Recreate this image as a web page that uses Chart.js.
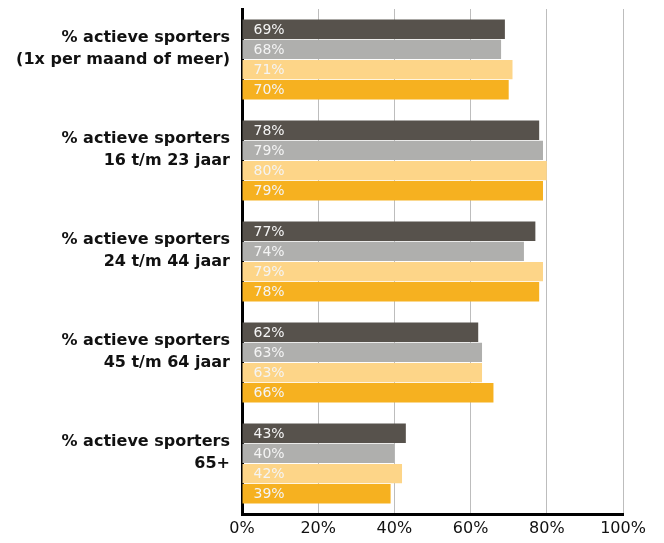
<!DOCTYPE html>
<html>
<head>
<meta charset="utf-8">
<script src="https://cdn.jsdelivr.net/npm/chart.js@4/dist/chart.umd.min.js"></script>
<style>
html,body{margin:0;padding:0;background:#fff;}
#wrap{width:664px;height:543px;position:relative;}
</style>
</head>
<body>
<div id="wrap"><canvas id="c" width="664" height="543"></canvas></div>
<script>
const categories = [
  ['% actieve sporters', '(1x per maand of meer)', ''],
  ['% actieve sporters', '16 t/m 23 jaar', ''],
  ['% actieve sporters', '24 t/m 44 jaar', ''],
  ['% actieve sporters', '45 t/m 64 jaar', ''],
  ['% actieve sporters', '65+', '']
];
const series1 = [69, 78, 77, 62, 43];
const series2 = [68, 79, 74, 63, 40];
const series3 = [71, 80, 79, 63, 42];
const series4 = [70, 79, 78, 66, 39];
const tickValues = [0, 20, 40, 60, 80, 100];

const colors = ['#57524c', '#afafad', '#fdd588', '#f6b120'];
const FAMILY = '"DejaVu Sans", Verdana, sans-serif';

const labelPlugin = {
  id: 'barLabels',
  afterDatasetsDraw(chart) {
    const ctx = chart.ctx;
    ctx.save();
    ctx.font = '14px ' + FAMILY;
    ctx.fillStyle = '#f4f4f4';
    ctx.textAlign = 'left';
    ctx.textBaseline = 'middle';
    chart.data.datasets.forEach((ds, i) => {
      const meta = chart.getDatasetMeta(i);
      meta.data.forEach((el, j) => {
        ctx.fillText(ds.data[j] + '%', el.base + 11, el.y + 1);
      });
    });
    ctx.restore();
  }
};

new Chart(document.getElementById('c'), {
  type: 'bar',
  data: {
    labels: categories,
    datasets: [
      { label: 'Serie 1', data: series1, backgroundColor: colors[0] },
      { label: 'Serie 2', data: series2, backgroundColor: colors[1] },
      { label: 'Serie 3', data: series3, backgroundColor: colors[2] },
      { label: 'Serie 4', data: series4, backgroundColor: colors[3] }
    ]
  },
  options: {
    indexAxis: 'y',
    responsive: false,
    animation: false,
    layout: { padding: { top: 9, right: 41, bottom: 0, left: 0 } },
    plugins: { legend: { display: false }, tooltip: { enabled: false } },
    datasets: { bar: { categoryPercentage: 0.8, barPercentage: 0.96 } },
    scales: {
      x: {
        min: 0, max: 100,
        afterBuildTicks(scale) { scale.ticks = tickValues.map(v => ({ value: v })); },
        afterFit(scale) { scale.height = 29; scale.paddingLeft = 0; scale.paddingRight = 0; },
        grid: { color: '#bdbdbd', lineWidth: 1, drawTicks: false },
        border: { display: true, color: '#000', width: 3 },
        ticks: {
          padding: 5,
          color: '#111',
          font: { family: FAMILY, size: 16 },
          callback: v => v + '%'
        }
      },
      y: {
        afterFit(scale) { scale.width = 242; scale.paddingTop = 0; scale.paddingBottom = 0; },
        grid: { display: false, drawTicks: false },
        border: { display: true, color: '#000', width: 3 },
        ticks: {
          padding: 12,
          color: '#111',
          font: { family: FAMILY, size: 16, weight: 'bold', lineHeight: 1.375 }
        }
      }
    }
  },
  plugins: [labelPlugin]
});
</script>
</body>
</html>
